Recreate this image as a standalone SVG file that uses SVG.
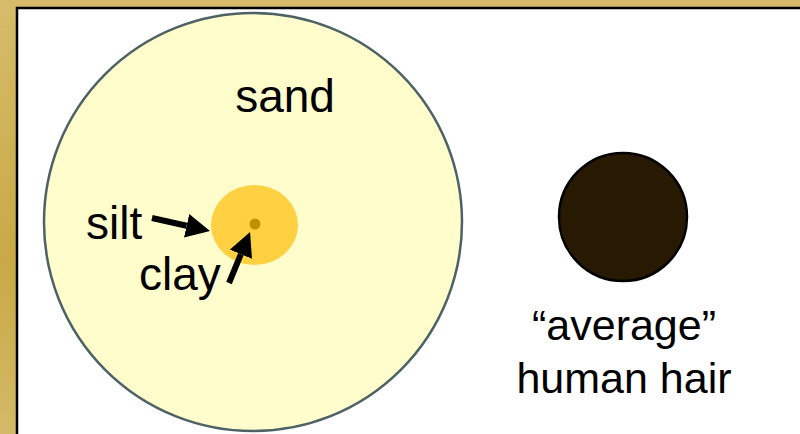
<svg xmlns="http://www.w3.org/2000/svg" width="800" height="434" viewBox="0 0 800 434">
<defs>
<linearGradient id="gold" x1="0" y1="0" x2="0" y2="1">
<stop offset="0" stop-color="#D6BC6A"/>
<stop offset="0.6" stop-color="#C9A845"/>
<stop offset="1" stop-color="#D4BA68"/>
</linearGradient>
<marker id="ah" viewBox="0 0 10 10" refX="0" refY="5" markerWidth="4" markerHeight="4" orient="auto" markerUnits="strokeWidth">
<path d="M0,0 L10,5 L0,10 z" fill="#000"/>
</marker>
</defs>
<style>
.lbl{font-family:"Liberation Sans",Arial,sans-serif;font-size:46px;fill:#000}
.lbl2{font-family:"Liberation Sans",Arial,sans-serif;font-size:43px;fill:#000}
.arr{stroke:#000;stroke-width:6;fill:none;marker-end:url(#ah)}
</style>
<rect x="0" y="0" width="800" height="434" fill="url(#gold)"/>
<rect x="17" y="8" width="790" height="440" fill="#fff" stroke="#000" stroke-width="2.5"/>
<g id="sand">
<circle cx="253" cy="222" r="209" fill="#FFFDCC" stroke="#4E6266" stroke-width="2.5"/>
<text class="lbl" x="285" y="112" text-anchor="middle">sand</text>
</g>
<g id="silt">
<ellipse cx="254.5" cy="225" rx="43.5" ry="40" fill="#FFD041"/>
<text class="lbl" x="86" y="239">silt</text>
</g>
<g id="clay">
<circle cx="255" cy="224" r="5.5" fill="#C09000"/>
<text class="lbl" x="139" y="290">clay</text>
</g>
<g id="hair">
<circle cx="623" cy="217" r="64" fill="#281A02" stroke="#000" stroke-width="2.5"/>
<text class="lbl2" x="624" y="340" text-anchor="middle">“average”</text>
<text class="lbl2" x="624" y="393" text-anchor="middle">human hair</text>
</g>
<g id="connectors">
<line class="arr" x1="152" y1="218" x2="186.6" y2="225.7"/>
<line class="arr" x1="229" y1="283" x2="240.9" y2="254.2"/>
</g>
</svg>
